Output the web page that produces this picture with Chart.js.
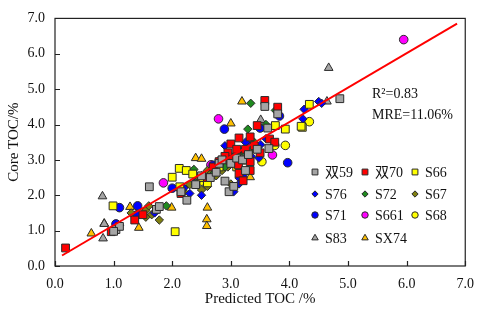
<!DOCTYPE html>
<html lang="en">
<head>
  <meta charset="UTF-8" />
  <title>Core TOC vs Predicted TOC</title>
  <script src="https://cdn.jsdelivr.net/npm/chart.js"></script>
  <style>
    html, body { margin: 0; padding: 0; background: #fff; }
    #wrap { width: 484px; height: 316px; }
  </style>
</head>
<body>
  <div id="wrap"><canvas id="tocChart" width="484" height="316"></canvas></div>

  <script>
    // Predicted TOC (x) / Core TOC (y), one list per well
    const well59 = [[1.04,1.03],[1.1,1.12],[1.0,0.98],[1.61,2.24],[1.73,1.6],[1.78,1.68],[2.25,1.86],[2.15,2.1],[2.4,2.3],
      [2.5,2.55],[2.65,2.5],[2.75,2.65],[2.8,2.9],[2.85,3.0],[2.97,2.1],[3.0,2.9],[3.1,3.05],[3.2,3.0],[3.3,3.15],
      [3.45,3.3],[3.58,4.51],[3.65,3.32],[3.8,4.3],[3.63,3.9],[4.86,4.73],[3.25,2.7],[3.05,2.25],[2.9,2.4]];
    const well70 = [[0.18,0.51],[0.96,0.97],[1.36,1.3],[1.5,1.45],[2.15,2.05],[2.6,2.5],[2.7,2.8],[2.8,2.95],[2.95,3.2],
      [3.0,3.0],[3.13,2.86],[3.14,3.62],[3.14,2.62],[3.21,2.41],[3.25,3.3],[3.33,3.65],[3.33,2.95],[3.33,2.7],[3.4,3.4],
      [3.45,3.97],[3.5,3.2],[3.58,4.68],[3.66,3.59],[3.8,4.49],[3.75,3.5],[3.0,3.45],[2.9,3.1],[3.1,3.3]];
    const wellS66 = [[0.99,1.7],[2.0,2.51],[2.05,0.97],[2.12,2.76],[2.24,2.7],[2.13,2.24],[2.5,2.5],[2.6,2.35],[3.1,2.8],
      [3.3,3.3],[3.76,3.97],[3.93,3.87],[4.22,3.92],[4.34,4.57],[2.35,2.6],[2.8,2.8],[4.2,3.95]];
    const wellS76 = [[1.1,1.15],[1.7,1.5],[2.2,2.2],[2.4,2.3],[2.5,2.0],[2.6,2.5],[2.75,2.7],[2.9,3.4],[3.0,2.95],
      [3.14,2.49],[3.14,2.32],[3.25,3.5],[3.35,3.1],[3.48,3.05],[3.51,3.43],[3.6,3.6],[4.23,4.16],[4.25,4.43],
      [4.5,4.65],[4.55,4.6],[2.3,2.05],[3.05,2.1]];
    const wellS72 = [[1.9,1.7],[2.37,2.73],[2.6,2.4],[2.8,3.0],[3.0,3.1],[3.29,3.87],[3.34,4.6],[3.76,4.4],[3.2,3.25],
      [2.7,2.6],[3.4,3.5],[2.9,2.8],[3.6,4.0]];
    const wellS67 = [[1.55,1.57],[1.55,1.38],[1.78,1.3],[1.3,1.5],[1.6,1.7],[1.65,1.45],[2.2,2.1],[2.3,2.3],[2.4,2.35],
      [2.45,2.5],[2.5,2.55],[2.55,2.45],[2.6,2.7],[2.65,2.6],[2.7,2.75],[2.75,2.55],[2.8,2.85],[2.85,2.7],[2.9,2.95],
      [2.95,2.8],[3.0,2.32],[3.0,3.0],[3.05,3.1],[3.1,2.9],[3.15,3.2],[3.2,3.0],[3.3,3.25],[3.4,3.3],[2.5,2.15],[2.6,2.25]];
    const wellS71 = [[1.04,1.19],[1.1,1.65],[1.41,1.7],[1.4,1.45],[2.0,2.2],[2.4,2.35],[2.6,2.6],[2.89,3.87],[3.05,2.9],
      [3.2,2.55],[3.5,3.9],[3.83,4.24],[3.97,2.92],[3.3,3.4],[2.7,2.85]];
    const wellS661 = [[1.85,2.35],[2.79,4.16],[2.66,2.86],[3.71,3.14],[5.95,6.4]];
    const wellS68 = [[3.23,3.0],[3.53,2.95],[3.75,3.41],[3.93,3.41],[4.34,4.08],[2.5,2.4]];
    const wellS83 = [[0.81,1.97],[0.84,1.19],[0.82,0.78],[2.95,2.9],[3.51,4.13],[4.64,4.65],[4.67,5.6],[3.3,3.3]];
    const wellSX74 = [[0.62,0.92],[0.84,1.2],[1.28,1.67],[1.43,1.08],[1.99,1.65],[2.6,1.65],[2.59,1.32],[2.59,1.13],
      [2.4,3.05],[2.5,3.03],[3.0,4.03],[3.19,4.65],[3.33,2.51],[2.17,2.16]];

    // fitted line: core = slope * predicted + intercept
    const fitSlope = 0.973;
    const fitIntercept = 0.18;
    const fitRange = [0.12, 6.86];

    const wellNames = ['双59', '双70', 'S66', 'S76', 'S72', 'S67', 'S71', 'S661', 'S68', 'S83', 'SX74'];
    const wellData = [well59, well70, wellS66, wellS76, wellS72, wellS67, wellS71, wellS661, wellS68, wellS83, wellSX74];
    const wellShapes = ['rect', 'rect', 'rect', 'rectRot', 'rectRot', 'rectRot', 'circle', 'circle', 'circle', 'triangle', 'triangle'];
    const wellColors = ['#a5a5a5', '#ff0000', '#ffff00', '#0000ff', '#1f8a1f', '#7f7f10', '#0000ff', '#ff00ff', '#ffff00', '#a5a5a5', '#ffc000'];
    const shapeRadius = { rect: 5.5, rectRot: 4.2, circle: 4.3, triangle: 5 };

    const axisTicks = [0, 1, 2, 3, 4, 5, 6, 7];
    const statsLines = ['R\u00b2=0.83', 'MRE=11.06%'];

    const serif = "'Liberation Serif', 'Times New Roman', 'Noto Sans CJK SC', serif";

    const datasets = [{
      type: 'line',
      label: 'fit',
      data: fitRange.map(x => ({ x: x, y: fitSlope * x + fitIntercept })),
      borderColor: '#ff0000',
      borderWidth: 2,
      pointRadius: 0,
      fill: false
    }];
    wellNames.forEach((name, i) => {
      datasets.push({
        type: 'scatter',
        label: name,
        data: wellData[i].map(p => ({ x: p[0], y: p[1] })),
        pointStyle: wellShapes[i],
        pointRadius: shapeRadius[wellShapes[i]],
        backgroundColor: wellColors[i],
        borderColor: '#2b2b2b',
        borderWidth: 1
      });
    });

    // frame, inward ticks, stats text and legend inside the plot
    const decorPlugin = {
      id: 'decor',
      afterDraw(chart) {
        const ctx = chart.ctx;
        const a = chart.chartArea;
        const xs = chart.scales.x, ys = chart.scales.y;
        ctx.save();
        ctx.strokeStyle = '#222';
        ctx.lineWidth = 1.2;
        ctx.strokeRect(a.left, a.top, a.right - a.left, a.bottom - a.top);
        ctx.beginPath();
        axisTicks.forEach(v => {
          const px = Math.round(xs.getPixelForValue(v)) + 0.5;
          ctx.moveTo(px, a.bottom); ctx.lineTo(px, a.bottom - 5);
          const py = Math.round(ys.getPixelForValue(v)) + 0.5;
          ctx.moveTo(a.left, py); ctx.lineTo(a.left + 5, py);
        });
        ctx.stroke();

        ctx.fillStyle = '#111';
        ctx.font = '14px ' + serif;
        ctx.textBaseline = 'middle';
        ctx.textAlign = 'left';
        ctx.fillText(statsLines[0], 372, 94);
        ctx.fillText(statsLines[1], 372, 115);

        const colX = [315, 365, 415];
        const rowY = [172, 194, 215, 238];
        wellNames.forEach((name, i) => {
          const cx = colX[i % 3], cy = rowY[Math.floor(i / 3)];
          ctx.fillStyle = wellColors[i];
          ctx.strokeStyle = '#2b2b2b';
          ctx.lineWidth = 1;
          Chart.helpers.drawPoint(ctx, { pointStyle: wellShapes[i], radius: shapeRadius[wellShapes[i]] * 0.75, borderWidth: 1 }, cx, cy);
          ctx.fillStyle = '#111';
          ctx.fillText(name, cx + 10, cy + 1);
        });
        ctx.restore();
      }
    };

    const tickFont = { family: serif, size: 14 };
    const titleFont = { family: serif, size: 15 };

    new Chart(document.getElementById('tocChart'), {
      type: 'scatter',
      data: { datasets: datasets },
      plugins: [decorPlugin],
      options: {
        responsive: false,
        animation: false,
        layout: { padding: { top: 7, right: 13, left: 0, bottom: 0 } },
        plugins: { legend: { display: false }, tooltip: { enabled: false } },
        scales: {
          x: {
            type: 'linear', min: 0, max: 7,
            afterBuildTicks: s => { s.ticks = axisTicks.map(v => ({ value: v })); },
            afterFit: s => { s.height = 50; },
            grid: { display: false, drawTicks: false },
            border: { display: false },
            ticks: { color: '#111', font: tickFont, padding: 10, callback: v => v.toFixed(1) },
            title: { display: true, text: 'Predicted TOC /%', color: '#111', font: titleFont, padding: { top: 0, bottom: 8 } }
          },
          y: {
            type: 'linear', min: 0, max: 7,
            afterBuildTicks: s => { s.ticks = axisTicks.map(v => ({ value: v })); },
            afterFit: s => { s.width = 55; },
            grid: { display: false, drawTicks: false },
            border: { display: false },
            ticks: { color: '#111', font: tickFont, padding: 10, callback: v => v.toFixed(1) },
            title: { display: true, text: 'Core TOC/%', color: '#111', font: titleFont, padding: { top: 5, bottom: 0 } }
          }
        }
      }
    });
  </script>
</body>
</html>
